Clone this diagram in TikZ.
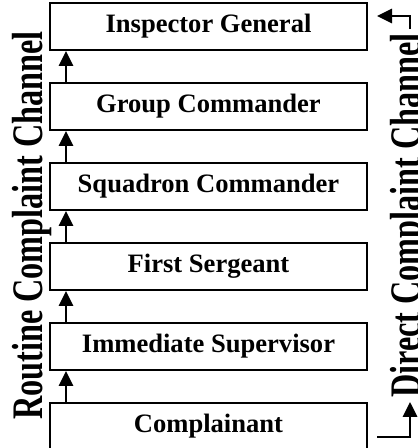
\documentclass[tikz,border=0pt]{standalone}
\usepackage{fontspec}
\setmainfont{Liberation Serif}
\usepackage{graphicx}
\usetikzlibrary{arrows.meta}

\def\boxwidth{7.925cm}
\def\boxheight{1.175cm}

\begin{document}
\begin{tikzpicture}[font=\bfseries,line width=1.4pt,>={Triangle[length=0.375cm,width=0.36cm]}]
    \tikzstyle{office}=[rectangle,draw=black,minimum width=\boxwidth,minimum height=\boxheight,inner sep=0pt,font=\fontsize{18.9}{22}\selectfont\bfseries]
    \tikzstyle{channel}=[rotate=90,inner sep=0.075cm,font=\fontsize{31}{36}\selectfont\bfseries]

    \useasboundingbox (0,0) rectangle (10.45,11.2);

    % chain of offices
    \node[office] (ig) at (5.2125,10.5375) {Inspector General};
    \node[office] (gc) at (5.2125,8.5375) {Group Commander};
    \node[office] (sc) at (5.2125,6.5375) {Squadron Commander};
    \node[office] (fs) at (5.2125,4.5375) {First Sergeant};
    \node[office] (is) at (5.2125,2.5375) {Immediate Supervisor};
    \node[office] (compl) at (5.2125,0.5375) {Complainant};

    \node[channel] (routine) at (0.795,5.5625) {\scalebox{0.74}[1]{Routine Complaint Channel}};
    \node[channel] (direct) at (10.25,5.8125) {\scalebox{0.74}[1]{Direct Complaint Channel}};

    % routine channel
    \draw[->] ([xshift=0.425cm]compl.north west) -- ([xshift=0.425cm]is.south west);
    \draw[->] ([xshift=0.425cm]is.north west) -- ([xshift=0.425cm]fs.south west);
    \draw[->] ([xshift=0.425cm]fs.north west) -- ([xshift=0.425cm]sc.south west);
    \draw[->] ([xshift=0.425cm]sc.north west) -- ([xshift=0.425cm]gc.south west);
    \draw[->] ([xshift=0.425cm]gc.north west) -- ([xshift=0.425cm]ig.south west);

    % direct channel
    \coordinate (dstart) at (9.425,0.275);
    \coordinate (dend) at (9.425,10.8);
    \draw[->] (dstart) -| (direct.west);
    \draw[->] (direct.east) |- (dend);
\end{tikzpicture}
\end{document}
